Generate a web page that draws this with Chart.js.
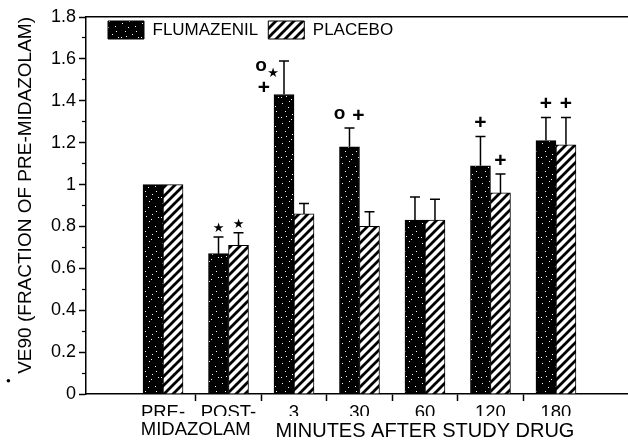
<!DOCTYPE html>
<html>
<head>
<meta charset="utf-8">
<script src="https://cdn.jsdelivr.net/npm/chart.js@4.4.1/dist/chart.umd.min.js"></script>
<style>
  html, body { margin: 0; padding: 0; background: #fff; }
  #wrap { width: 628px; height: 446px; position: relative; }
</style>
</head>
<body>
<div id="wrap"><canvas id="myChart"></canvas></div>
<script>
// datos
const categories = ["PRE-", "POST-", "3", "30", "60", "120", "180"];
const groupLabels = ["MIDAZOLAM", "MINUTES AFTER STUDY DRUG"];
const groupCenters = [1.5, 5];
const flumazenil = [1.0, 0.67, 1.43, 1.18, 0.83, 1.09, 1.21];
const placebo = [1.0, 0.71, 0.86, 0.8, 0.83, 0.96, 1.19];
const flumazenilErr = [0, 0.08, 0.16, 0.09, 0.11, 0.14, 0.11];
const placeboErr = [0, 0.06, 0.05, 0.07, 0.1, 0.09, 0.13];
const flumazenilMarks = ["", "*", "o*+", "o+", "", "+", "+"];
const placeboMarks = ["", "*", "", "", "", "+", "+"];
const yTicks = [0, 0.2, 0.4, 0.6, 0.8, 1, 1.2, 1.4, 1.6, 1.8];
const yMinorTicks = [0.1, 0.3, 0.5, 0.7, 0.9, 1.1, 1.3, 1.5, 1.7];

const xMin = -0.176;
const xMax = 8.1;
const font = "'Liberation Sans', Arial, sans-serif";

// donde va cada simbolo respecto al extremo de la barra de error
const markLayout = {
  "*": [["★", 0, -8]],
  "+": [["+", 0, -13]],
  "o+": [["o", -10, -14], ["+", 9, -12]],
  "o*+": [["o", -23, 5], ["★", -11, 13], ["+", -20, 27]],
};
const glyphFont = {
  "★": "13px 'DejaVu Sans', sans-serif",
  "+": "bold 21px " + font,
  "o": "bold 19px " + font,
};

const speckle = () => {
  const c = document.createElement("canvas");
  c.width = 20; c.height = 20;
  const g = c.getContext("2d");
  g.fillStyle = "#000";
  g.fillRect(0, 0, 20, 20);
  g.fillStyle = "#fff";
  [[2, 3], [9, 1], [15, 6], [5, 11], [12, 14], [18, 17], [1, 17], [8, 7], [16, 11], [11, 19], [6, 16]]
    .forEach(([x, y]) => g.fillRect(x, y, 1, 1));
  return g.createPattern(c, "repeat");
};

const hatch = () => {
  const s = 9;
  const c = document.createElement("canvas");
  c.width = s; c.height = s;
  const g = c.getContext("2d");
  g.fillStyle = "#fff";
  g.fillRect(0, 0, s, s);
  g.strokeStyle = "#000";
  g.lineWidth = 2.8;
  g.beginPath();
  g.moveTo(-2, 2); g.lineTo(2, -2);
  g.moveTo(0, s); g.lineTo(s, 0);
  g.moveTo(s - 2, s + 2); g.lineTo(s + 2, s - 2);
  g.stroke();
  return g.createPattern(c, "repeat");
};

const errorBars = {
  id: "errorBars",
  afterDatasetsDraw(chart) {
    const ctx = chart.ctx;
    const yScale = chart.scales.y;
    const errs = [flumazenilErr, placeboErr];
    const marks = [flumazenilMarks, placeboMarks];
    ctx.save();
    ctx.strokeStyle = "#000";
    ctx.fillStyle = "#000";
    ctx.lineWidth = 1.5;
    ctx.textAlign = "center";
    ctx.textBaseline = "middle";
    chart.data.datasets.forEach((ds, di) => {
      chart.getDatasetMeta(di).data.forEach((bar, i) => {
        const err = errs[di][i];
        let top = bar.y;
        if (err > 0) {
          top = yScale.getPixelForValue(ds.data[i].y + err);
          ctx.beginPath();
          ctx.moveTo(bar.x, bar.y);
          ctx.lineTo(bar.x, top);
          ctx.moveTo(bar.x - 5, top);
          ctx.lineTo(bar.x + 5, top);
          ctx.stroke();
        }
        (markLayout[marks[di][i]] || []).forEach(([glyph, dx, dy]) => {
          ctx.font = glyphFont[glyph];
          ctx.fillText(glyph, bar.x + dx, top + dy);
        });
      });
    });

    // punto sobre la V del titulo (V con punto)
    const t = yScale.options.title;
    ctx.font = t.font.size + "px " + font;
    const w = ctx.measureText(t.text).width;
    const titleX = yScale.left + t.font.size * 0.6 + t.padding.top;
    const startY = yScale.top + w;
    ctx.beginPath();
    ctx.arc(titleX - 17, startY + 7, 1.8, 0, Math.PI * 2);
    ctx.fill();
    ctx.restore();
  },
};

// leyenda en una fila dentro del area del grafico
const legendShift = {
  id: "legendShift",
  beforeLayout(chart) {
    const lg = chart.legend;
    if (lg && !lg._flat) {
      const fit = lg.fit;
      lg.fit = function () { fit.call(this); this.height = 0; };
      lg._flat = true;
    }
  },
  afterLayout(chart) {
    const lg = chart.legend;
    lg.left = chart.chartArea.left + 12;
    lg.top = chart.chartArea.top - 6;
    lg.right = chart.chartArea.right;
    lg.bottom = lg.top + 44;
  },
};

Chart.defaults.font.family = font;
Chart.defaults.color = "#000";

new Chart(document.getElementById("myChart"), {
  type: "bar",
  data: {
    datasets: [
      {
        label: "FLUMAZENIL",
        data: flumazenil.map((v, i) => ({ x: i + 1, y: v })),
        backgroundColor: speckle(),
        borderColor: "#000",
        borderWidth: 1,
      },
      {
        label: "PLACEBO",
        data: placebo.map((v, i) => ({ x: i + 1, y: v })),
        backgroundColor: hatch(),
        borderColor: "#000",
        borderWidth: 1,
      },
    ],
  },
  options: {
    responsive: true,
    maintainAspectRatio: false,
    animation: false,
    events: [],
    layout: { padding: { top: 17, right: 0, bottom: 0, left: 0 } },
    datasets: { bar: { barThickness: 20 } },
    plugins: {
      legend: {
        position: "top",
        align: "start",
        labels: { boxWidth: 36, boxHeight: 18, padding: 10, color: "#000", font: { size: 17 } },
      },
      tooltip: { enabled: false },
    },
    scales: {
      x: {
        type: "linear",
        position: "bottom",
        min: xMin,
        max: xMax,
        offset: false,
        grid: {
          offset: false,
          drawOnChartArea: false,
          tickLength: 7,
          tickWidth: 1.5,
          tickColor: (c) => (c.tick && Number.isInteger(c.tick.value) ? "rgba(0,0,0,0)" : "#000"),
        },
        border: { color: "#000", width: 1.5 },
        afterBuildTicks: (s) => {
          s.ticks = [];
          categories.forEach((c, i) => {
            s.ticks.push({ value: i + 1 });
            if (i < categories.length - 1) s.ticks.push({ value: i + 1.5 });
          });
        },
        ticks: {
          autoSkip: false,
          maxRotation: 0,
          padding: 1,
          color: "#000",
          font: { size: 18.5 },
          callback: (v) => (Number.isInteger(v) ? categories[v - 1] : ""),
        },
        afterFit: (s) => { s.height = 22; },
      },
      xGroup: {
        type: "linear",
        position: "bottom",
        weight: 1,
        min: xMin,
        max: xMax,
        offset: false,
        grid: { display: false, drawTicks: false },
        border: { display: false },
        afterBuildTicks: (s) => { s.ticks = groupCenters.map((v) => ({ value: v })); },
        ticks: {
          autoSkip: false,
          maxRotation: 0,
          padding: 3,
          color: "#000",
          font: (c) => ({ size: c.index === 1 ? 20 : 18.5 }),
          callback: (v) => groupLabels[groupCenters.indexOf(v)],
        },
        afterFit: (s) => { s.height = 30; },
      },
      xTop: {
        type: "linear",
        position: "top",
        min: xMin,
        max: xMax,
        grid: { display: false },
        ticks: { display: false },
        border: { color: "#000", width: 1.5 },
        afterFit: (s) => { s.height = 0; },
      },
      y: {
        type: "linear",
        position: "left",
        weight: 1,
        min: 0,
        max: 1.8,
        grid: { drawOnChartArea: false, tickLength: 7, tickWidth: 1.5, tickColor: "#000" },
        border: { color: "#000", width: 1.5 },
        afterBuildTicks: (s) => { s.ticks = yTicks.map((v) => ({ value: v })); },
        ticks: {
          padding: 3,
          color: "#000",
          font: { size: 18 },
          callback: (v) => String(Number(v.toFixed(1))),
        },
        title: {
          display: true,
          align: "end",
          text: "VE90 (FRACTION OF PRE-MIDAZOLAM)",
          color: "#000",
          font: { size: 19, lineHeight: 1.2 },
          padding: { top: 14, bottom: 0 },
        },
        afterFit: (s) => { s.width = 86; },
      },
      yMinor: {
        type: "linear",
        position: "left",
        weight: 0,
        min: 0,
        max: 1.8,
        grid: { drawOnChartArea: false, tickLength: 4, tickWidth: 1.2, tickColor: "#000" },
        border: { display: false },
        afterBuildTicks: (s) => { s.ticks = yMinorTicks.map((v) => ({ value: v })); },
        ticks: { display: false },
        afterFit: (s) => { s.width = 0; },
      },
    },
  },
  plugins: [errorBars, legendShift],
});
</script>
</body>
</html>
